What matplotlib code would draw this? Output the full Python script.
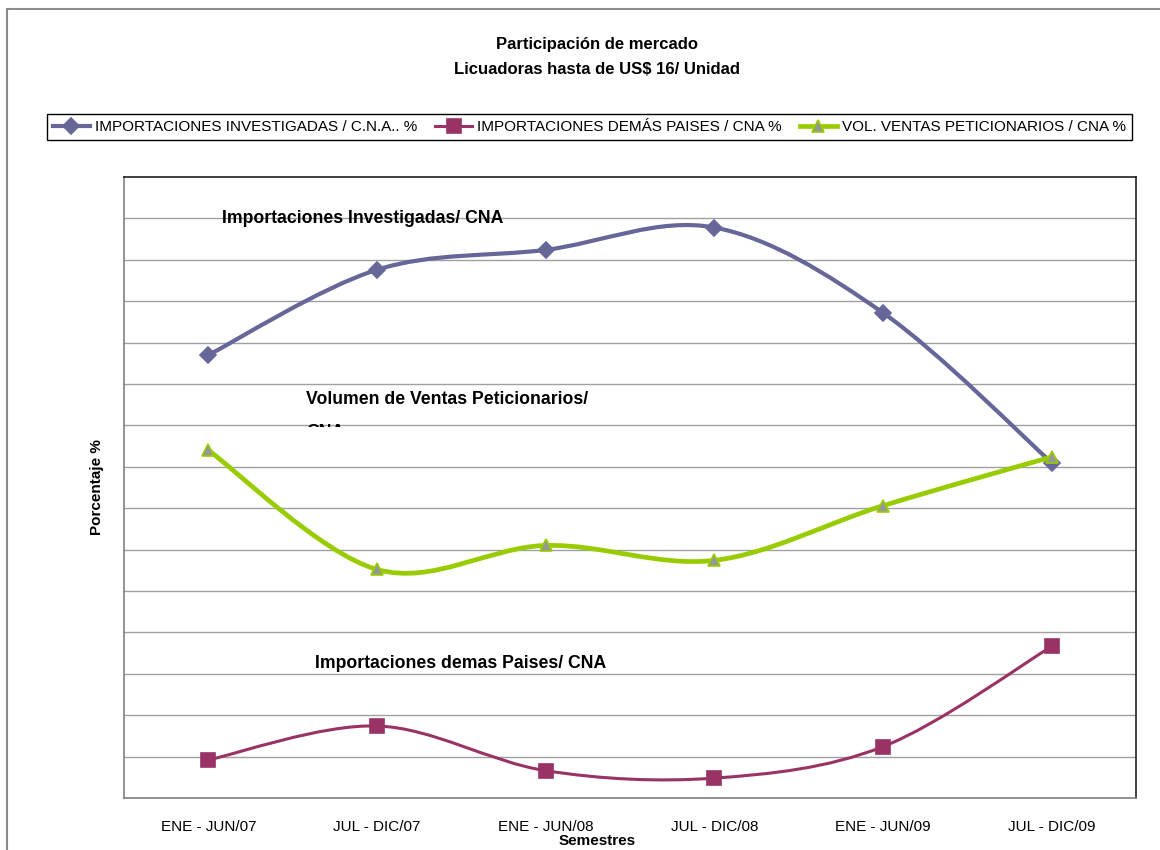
# coding: utf-8
'''
Participación de mercado - Licuadoras hasta de US$ 16/ Unidad.
Curvas suavizadas por semestre.
'''

import numpy as np
import matplotlib.pyplot as plt
from matplotlib.path import Path
from matplotlib.patches import PathPatch, Rectangle
from matplotlib.lines import Line2D
from matplotlib.transforms import Bbox

plt.rcParams['font.family'] = ['Liberation Sans', 'DejaVu Sans']

semestres = ['ENE - JUN/07', 'JUL - DIC/07', 'ENE - JUN/08',
             'JUL - DIC/08', 'ENE - JUN/09', 'JUL - DIC/09']
imp_investigadas = [53.5, 63.8, 66.2, 68.9, 58.6, 40.5]
imp_demas = [4.6, 8.7, 3.3, 2.4, 6.2, 18.3]
vol_ventas = [42.0, 27.6, 30.5, 28.7, 35.3, 41.2]

nombres = ['IMPORTACIONES INVESTIGADAS / C.N.A.. %',
           'IMPORTACIONES DEMÁS PAISES / CNA %',
           'VOL. VENTAS PETICIONARIOS / CNA %']


def smooth_path(x, y):
    '''Curva tipo Excel (Catmull-Rom -> Bezier) que pasa por los puntos.'''
    pts = np.column_stack([x, y]).astype(float)
    ext = np.vstack([pts[0], pts, pts[-1]])
    verts = [pts[0]]
    codes = [Path.MOVETO]
    for i in range(len(pts) - 1):
        p0, p1, p2, p3 = ext[i], ext[i + 1], ext[i + 2], ext[i + 3]
        verts += [p1 + (p2 - p0) / 6, p2 - (p3 - p1) / 6, p2]
        codes += [Path.CURVE4] * 3
    return Path(verts, codes)


if __name__ == '__main__':
    W, H = 1160, 850
    fig = plt.figure(figsize=(W / 100, H / 100), dpi=100)

    # marco exterior (solo se ve arriba e izquierda)
    fig.patches.append(Rectangle((7 / W, -0.2), 1.5, 1.2 - 9 / H,
                                 transform=fig.transFigure, fill=False,
                                 edgecolor='#8c8c8c', lw=1.5))

    ax = fig.add_axes([124 / W, 1 - 798 / H, (1136 - 124) / W, (798 - 177) / H])
    x = np.arange(len(semestres))

    series = [
        (imp_investigadas, '#666699', 3.0, 'D', 8, '#666699', '#666699'),
        (imp_demas, '#993366', 2.2, 's', 9.5, '#993366', '#993366'),
        (vol_ventas, '#99CC00', 3.4, '^', 9, '#969696', '#99CC00'),
    ]
    handles = []
    z = 3
    for (vals, color, lw, mk, ms, mfc, mec), nombre in zip(series, nombres):
        ax.add_patch(PathPatch(smooth_path(x, vals), fill=False, edgecolor=color,
                               lw=lw, zorder=z, capstyle='round'))
        ax.plot(x, vals, linestyle='none', marker=mk, ms=ms, mfc=mfc, mec=mec,
                mew=1.2, zorder=z + 1)
        handles.append(Line2D([], [], color=color, lw=lw, marker=mk, ms=ms,
                              mfc=mfc, mec=mec, mew=1.2, label=nombre))
        z += 2

    ax.set_xlim(-0.5, 5.5)
    ax.set_ylim(0, 75)
    ax.set_yticks(np.arange(5, 75, 5))
    ax.grid(axis='y', color='#a0a0a0', lw=1.0)
    ax.set_axisbelow(True)
    ax.tick_params(axis='y', length=0, labelleft=False)
    ax.set_xticks(x)
    ax.set_xticklabels(semestres, fontsize=11)
    ax.tick_params(axis='x', length=0, pad=16)
    for s in ['left', 'bottom']:
        ax.spines[s].set_color('#808080')
    for s in ['top', 'right']:
        ax.spines[s].set_color('#202020')
    for s in ax.spines.values():
        s.set_linewidth(1.2)

    ax.set_xlabel('Semestres', fontsize=11, fontweight='bold')
    ax.xaxis.set_label_coords((597 - 124) / 1012, (798 - 834) / 621)
    ax.set_ylabel('Porcentaje %', fontsize=11, fontweight='bold')
    ax.yaxis.set_label_coords((104 - 124) / 1012, 0.5)

    # textos dentro del grafico
    ax.text(222 / W, 1 - 219 / H, 'Importaciones Investigadas/ CNA',
            transform=fig.transFigure, fontsize=12.7, fontweight='bold',
            va='center', zorder=10)
    # el cuadro de texto original corta la segunda linea
    t = ax.text(306 / W, 1 - 391 / H, 'Volumen de Ventas Peticionarios/\nCNA',
                transform=fig.transFigure, fontsize=12.7, fontweight='bold',
                va='top', linespacing=2.2, zorder=10)
    t.set_clip_box(Bbox.from_extents(300, H - 427, 700, H - 380))
    t.set_clip_on(True)
    ax.text(315 / W, 1 - 663 / H, 'Importaciones demas Paises/ CNA',
            transform=fig.transFigure, fontsize=12.7, fontweight='bold',
            va='center', zorder=10)

    fig.text(597 / W, 1 - 57 / H, 'Participación de mercado\nLicuadoras hasta de US$ 16/ Unidad',
             ha='center', va='center', fontsize=12, fontweight='bold', linespacing=1.85)

    fig.legend(handles=handles, loc='center', bbox_to_anchor=(589.5 / W, 1 - 127 / H),
               ncol=3, fontsize=11, frameon=True, fancybox=False, edgecolor='black',
               framealpha=1, handlelength=2.4, handletextpad=0.33, columnspacing=1.2,
               borderpad=0.4, borderaxespad=0)

    plt.savefig('out.png', dpi=100)
